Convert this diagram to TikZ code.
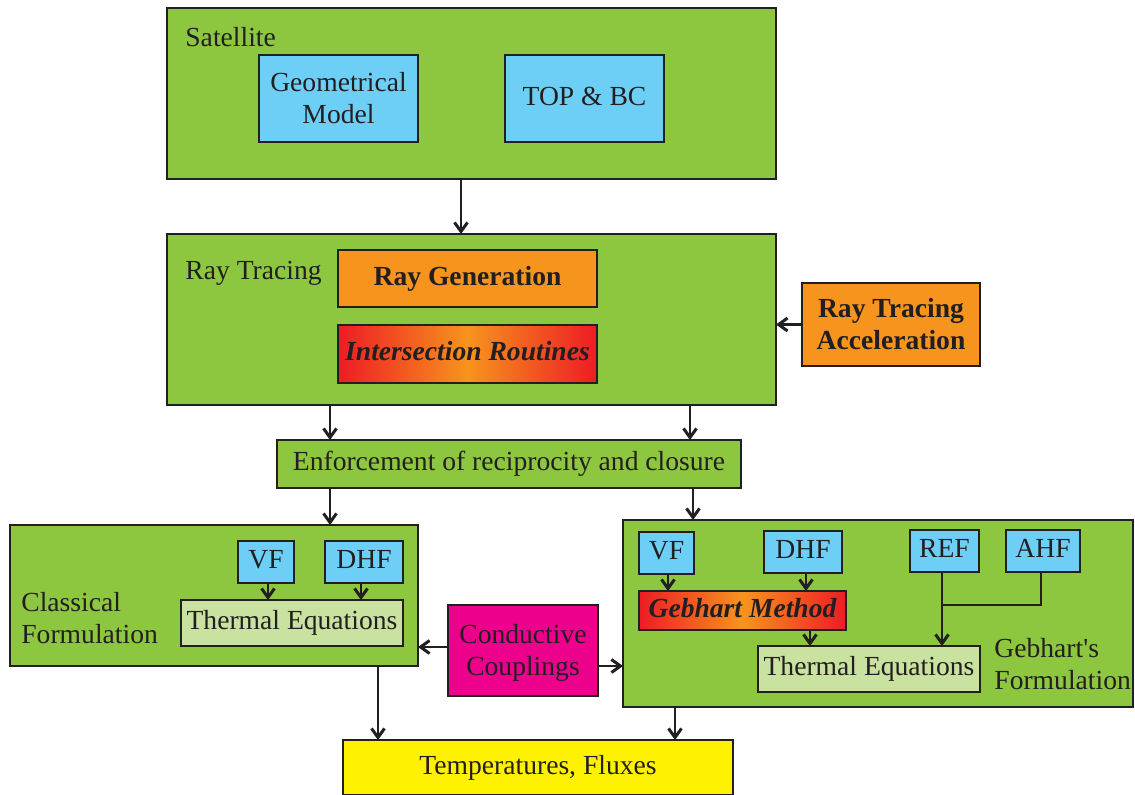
\documentclass[tikz,border=0pt]{standalone}
\usepackage{fontspec}
\setmainfont{Liberation Serif}
\usetikzlibrary{arrows.meta,calc}
\definecolor{cgreen}{HTML}{8DC63F}
\definecolor{cblue}{HTML}{6DCFF6}
\definecolor{corange}{HTML}{F7941D}
\definecolor{cred}{HTML}{ED1C24}
\definecolor{clight}{HTML}{C9E2A0}
\definecolor{cmag}{HTML}{EC008C}
\definecolor{cyel}{HTML}{FFF200}
\definecolor{cdark}{HTML}{231F20}
\newcommand{\bx}[7]{\node[#6, minimum width={(#4-#2)*0.5pt}, minimum height={(#5-#3)*0.5pt}] (#1) at ({(#2+#4)/2},{(#3+#5)/2}) {#7};}
\newcommand{\twoln}[2]{\raisebox{0pt}[\dimexpr16pt+0.66em\relax][0pt]{\begin{tabular}[b]{@{}c@{}}#1\\#2\end{tabular}}}
\tikzset{
  base/.style={draw=cdark, line width=1.4pt, inner sep=0pt, outer sep=0pt, text=cdark, align=center, text height=0.66em, text depth=0pt, font=\fontsize{13.8}{16}\selectfont},
  multi/.style={text height=, text depth=},
  greenbox/.style={base, fill=cgreen},
  bluebox/.style={base, fill=cblue},
  orangebox/.style={base, fill=corange, font=\fontsize{13.8}{16}\selectfont\bfseries},
  gradbox/.style={base, left color=cred, right color=cred, middle color=corange, font=\fontsize{13.8}{16}\selectfont\bfseries\itshape},
  lightbox/.style={base, fill=clight},
  magbox/.style={base, fill=cmag},
  yelbox/.style={base, fill=cyel},
  lbl/.style={text=cdark, inner sep=0pt, align=left, font=\fontsize{13.8}{16}\selectfont},
  arr/.style={draw=cdark, line width=1.2pt, -{Straight Barb[length=4.5pt,width=6.5pt,line width=1.5pt]}},
  ln/.style={draw=cdark, line width=1.2pt},
}
\begin{document}
\begin{tikzpicture}[x=0.5pt,y=-0.5pt]
\useasboundingbox (0,0) rectangle (1135,794);
% containers
\bx{sat}{167}{8}{776}{179}{greenbox}{}
\bx{rt}{167}{234}{776}{405}{greenbox}{}
\bx{cls}{10}{525}{418}{666}{greenbox}{}
\bx{geb}{623}{520}{1133}{707}{greenbox}{}
% labels
\node[lbl, anchor=west] (satl) at (185,37) {Satellite};
\node[lbl, anchor=west] (rtl) at (185,273) {Ray Tracing};
\node[lbl, anchor=west] (clsl) at (21,618) {Classical\\Formulation};
\node[lbl, anchor=west] (gebl) at (994,664) {Gebhart\textquotesingle s\\Formulation};
% satellite
\bx{geo}{259}{55}{418}{142}{bluebox,multi}{\twoln{Geometrical}{Model}}
\bx{top}{505}{55}{664}{142}{bluebox}{TOP \& BC}
% ray tracing
\bx{gen}{338}{250}{597}{307}{orangebox}{Ray Generation}
\bx{inter}{338}{325}{597}{383}{gradbox}{Intersection Routines}
\bx{acc}{802}{283}{980}{366}{orangebox,multi}{\twoln{Ray Tracing}{Acceleration}}
% enforcement
\bx{enf}{277}{440}{741}{488}{greenbox}{Enforcement of reciprocity and closure}
% classical
\bx{cvf}{238}{541}{294}{583}{bluebox}{VF}
\bx{cdhf}{325}{541}{403}{583}{bluebox}{DHF}
\bx{cte}{181}{600}{403}{646}{lightbox}{Thermal Equations}
% gebhart
\bx{gvf}{639}{532}{694}{574}{bluebox}{VF}
\bx{gdhf}{764}{531}{842}{573}{bluebox}{DHF}
\bx{gref}{910}{530}{979}{572}{bluebox}{REF}
\bx{gahf}{1006}{530}{1080}{572}{bluebox}{AHF}
\bx{gm}{639}{591}{846}{630}{gradbox}{Gebhart Method}
\bx{gte}{758}{646}{980}{692}{lightbox}{Thermal Equations}
% conductive
\bx{cc}{448}{605}{598}{696}{magbox,multi}{\twoln{Conductive}{Couplings}}
% temperatures
\bx{tf}{343}{740}{733}{795}{yelbox}{Temperatures, Fluxes}
% arrows
\draw[arr] (sat.south -| 461,0) -- (rt.north -| 461,0);
\draw[arr] (acc.west) -- (acc.west -| rt.east);
\draw[arr] (rt.south -| 330,0) -- (enf.north -| 330,0);
\draw[arr] (rt.south -| 690,0) -- (enf.north -| 690,0);
\draw[arr] (enf.south -| 330,0) -- (cls.north -| 330,0);
\draw[arr] (enf.south -| 693,0) -- (geb.north -| 693,0);
\draw[arr] (cvf.south -| 268,0) -- (cte.north -| 268,0);
\draw[arr] (cdhf.south -| 361,0) -- (cte.north -| 361,0);
\draw[arr] (gvf.south -| 668,0) -- (gm.north -| 668,0);
\draw[arr] (gdhf.south -| 806,0) -- (gm.north -| 806,0);
\draw[arr] (gm.south -| 810,0) -- (gte.north -| 810,0);
\draw[arr] (gref.south -| 942,0) -- (gte.north -| 942,0);
\draw[ln] (gahf.south -| 1041,0) -- (1041,605) -- (942,605);
\draw[arr] (cc.west |- 0,647) -- (cls.east |- 0,647);
\draw[arr] (cc.east |- 0,666) -- (geb.west |- 0,666);
\draw[arr] (cls.south -| 378,0) -- (tf.north -| 378,0);
\draw[arr] (geb.south -| 675,0) -- (tf.north -| 675,0);
\end{tikzpicture}
\end{document}
